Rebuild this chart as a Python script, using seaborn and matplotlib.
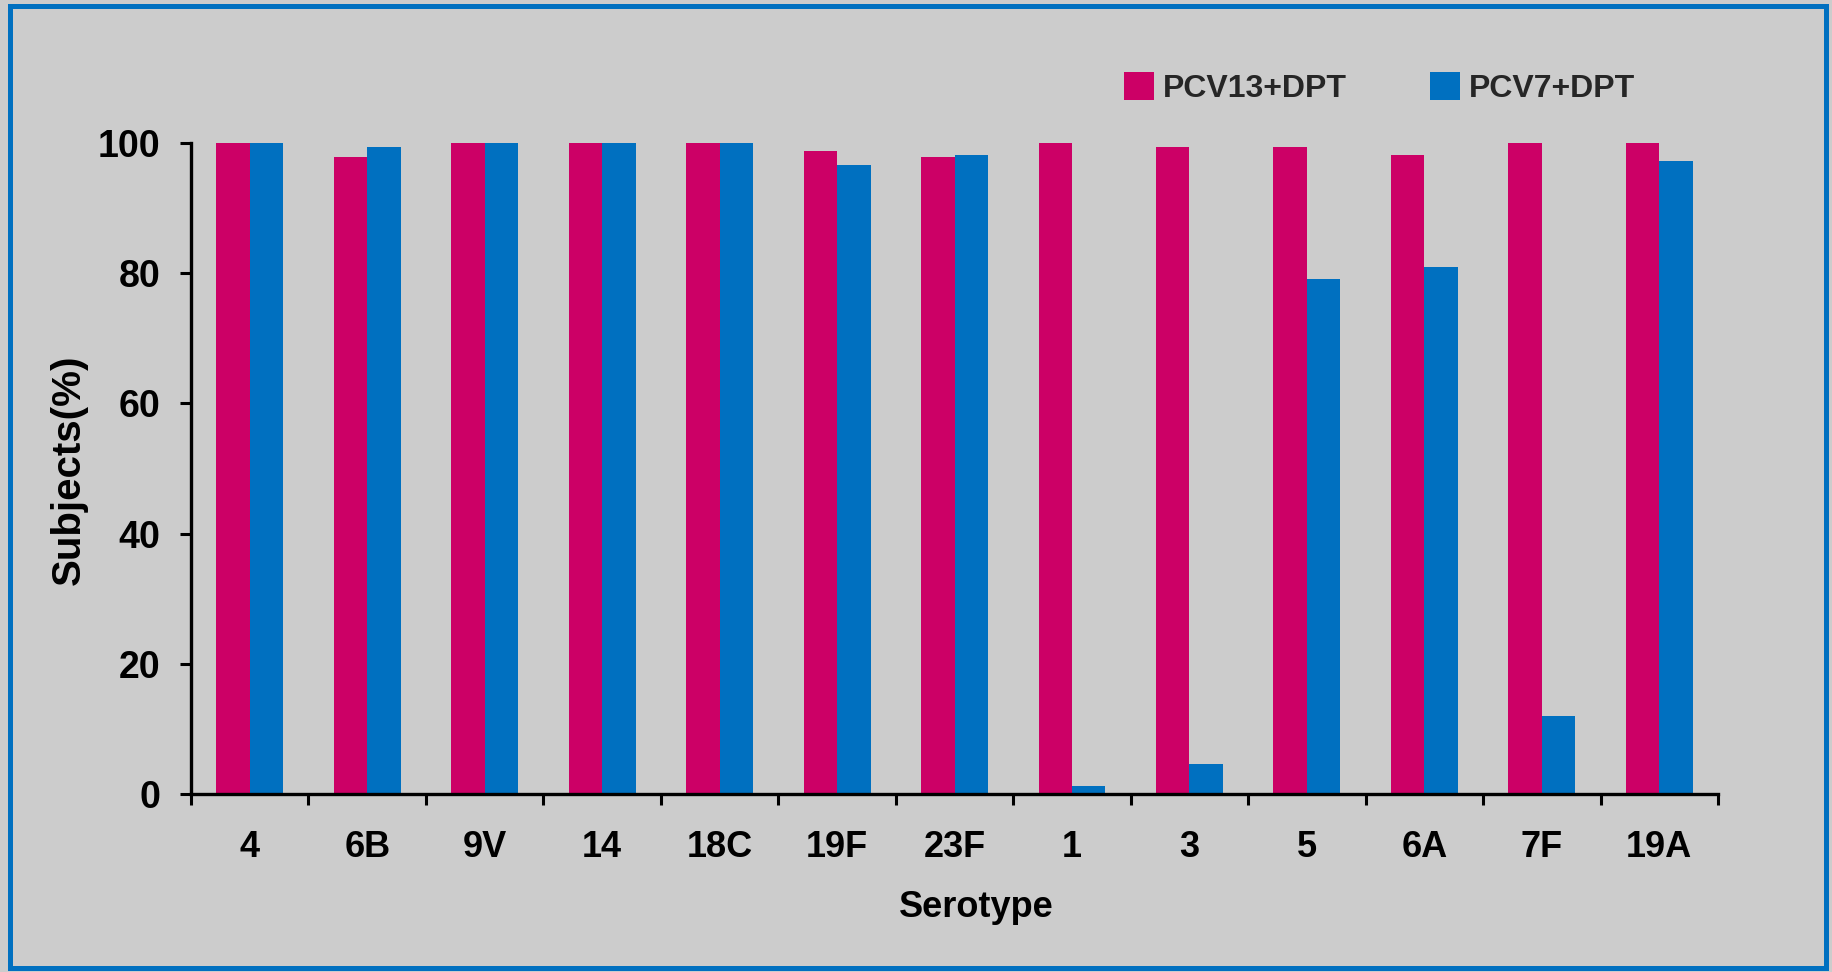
import numpy as np
import pandas as pd
import matplotlib
matplotlib.use("Agg")
import matplotlib.pyplot as plt
from matplotlib.patches import Rectangle
from matplotlib.ticker import FixedLocator
import seaborn as sns

serotypes = ["4", "6B", "9V", "14", "18C", "19F", "23F", "1", "3", "5", "6A", "7F", "19A"]
pcv13 = [100, 97.8, 100, 100, 100, 98.8, 97.8, 100, 99.4, 99.4, 98.2, 100, 100]
pcv7 = [100, 99.4, 100, 100, 100, 96.6, 98.2, 1.3, 4.6, 79.1, 81.0, 12.0, 97.2]
groups = ["PCV13+DPT", "PCV7+DPT"]
colors = ["#CC0066", "#0070C0"]
yticks = [0, 20, 40, 60, 80, 100]

df = pd.DataFrame({
    "Serotype": serotypes * 2,
    "Subjects": pcv13 + pcv7,
    "Group": [groups[0]] * len(serotypes) + [groups[1]] * len(serotypes),
})

sns.set_theme(style="white")
plt.rcParams["font.family"] = ["Liberation Sans", "Noto Sans CJK SC", "DejaVu Sans"]
plt.rcParams["font.weight"] = "bold"

bg = "#CCCCCC"
fig = plt.figure(figsize=(18.33, 9.72), dpi=100, facecolor=bg)
ax = fig.add_axes([0.1042, 0.1831, 0.8331, 0.6698])
ax.set_facecolor(bg)

sns.barplot(data=df, x="Serotype", y="Subjects", hue="Group", order=serotypes,
            hue_order=groups, palette=colors, width=0.57, gap=0, saturation=1,
            linewidth=0, ax=ax)

ax.set_xlim(-0.5, len(serotypes) - 0.5)
ax.set_ylim(0, 100)
ax.set_yticks(yticks)
ax.set_yticklabels([str(v) for v in yticks], fontsize=27, fontweight="bold")
ax.set_xticks(range(len(serotypes)))
ax.set_xticklabels(serotypes, fontsize=26, fontweight="bold")
ax.xaxis.set_minor_locator(FixedLocator(np.arange(-0.5, len(serotypes), 1.0)))

for s in ["top", "right"]:
    ax.spines[s].set_visible(False)
for s in ["left", "bottom"]:
    ax.spines[s].set_color("black")
    ax.spines[s].set_linewidth(2.4)

ax.tick_params(axis="x", which="major", length=0, pad=26, colors="black")
ax.tick_params(axis="x", which="minor", bottom=True, length=8, width=2.2, direction="out", color="black")
ax.tick_params(axis="y", which="major", left=True, length=8, width=2.2, direction="out", pad=14, colors="black")

ax.set_xlabel("Serotype", fontsize=26, fontweight="bold", color="black")
ax.xaxis.set_label_coords(0.514, -0.148)
ax.set_ylabel("Subjects(%)", fontsize=29, fontweight="bold", color="black")
ax.yaxis.set_label_coords(-0.0674, 0.498)

handles, labels = ax.get_legend_handles_labels()
ax.legend(handles, labels, loc="center left", bbox_to_anchor=(1124 / 1833, 1 - 88 / 972),
          bbox_transform=fig.transFigure, ncol=2, frameon=False,
          prop={"weight": "bold", "size": 23},
          handlelength=0.94, handleheight=0.94, handletextpad=0.28, columnspacing=2.6,
          borderpad=0, borderaxespad=0)

fig.patches.append(Rectangle((0.0052, 0.0046), 0.99125, 0.98974, transform=fig.transFigure,
                             fill=False, edgecolor="#0070C0", linewidth=3.6, zorder=10))

fig.savefig("out.png", dpi=100, facecolor=bg)
